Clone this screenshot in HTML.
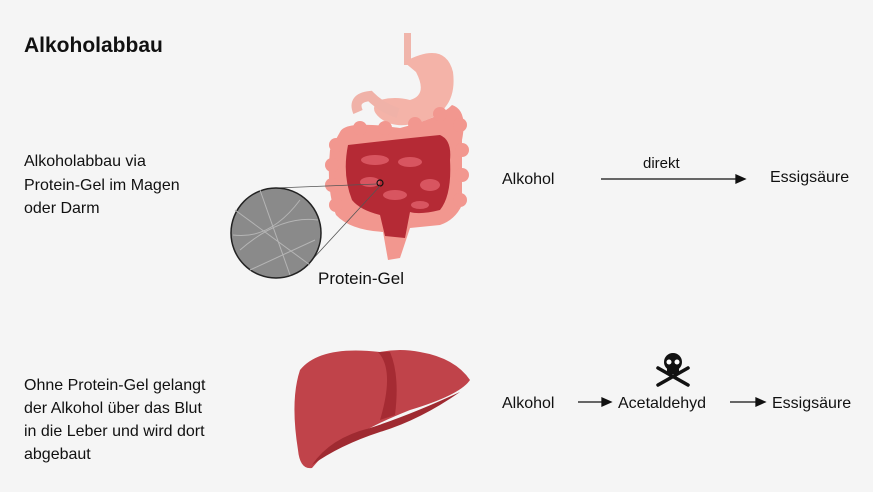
<!DOCTYPE html>
<html><head><style>
body{margin:0;background:#f5f5f5;}
svg{display:block;font-family:"Liberation Sans",sans-serif;}
</style></head><body>
<svg width="873" height="492" viewBox="0 0 873 492">
<rect width="873" height="492" fill="#f5f5f5"/>
<text x="24" y="52" font-size="21" font-weight="bold" fill="#111">Alkoholabbau</text>
<g font-size="16" fill="#111">
<text x="24" y="166">Alkoholabbau via</text>
<text x="24" y="190">Protein-Gel im Magen</text>
<text x="24" y="213">oder Darm</text>
<text x="24" y="390">Ohne Protein-Gel gelangt</text>
<text x="24" y="413">der Alkohol über das Blut</text>
<text x="24" y="436">in die Leber und wird dort</text>
<text x="24" y="459">abgebaut</text>
<text x="502" y="184">Alkohol</text>
<text x="643" y="168" font-size="15">direkt</text>
<text x="770" y="182">Essigsäure</text>
<text x="502" y="408">Alkohol</text>
<text x="618" y="408">Acetaldehyd</text>
<text x="772" y="408">Essigsäure</text>
<text x="318" y="284" font-size="17">Protein-Gel</text>
</g>
<g stroke="#111" stroke-width="1.3" fill="#111">
<line x1="601" y1="179" x2="738" y2="179"/><path d="M745 179 L736 175 L736 183Z"/>
<line x1="578" y1="402" x2="604" y2="402"/><path d="M611 402 L602 398 L602 406Z"/>
<line x1="730" y1="402" x2="758" y2="402"/><path d="M765 402 L756 398 L756 406Z"/>
</g>
<g fill="#111">
<ellipse cx="673" cy="362" rx="9" ry="9"/>
<rect x="667" y="366" width="12" height="8" rx="2"/>
<line x1="658" y1="368" x2="688" y2="385" stroke="#111" stroke-width="3.5" stroke-linecap="round"/>
<line x1="688" y1="368" x2="658" y2="385" stroke="#111" stroke-width="3.5" stroke-linecap="round"/>
<circle cx="669" cy="362" r="2.5" fill="#fff"/><circle cx="677" cy="362" r="2.5" fill="#fff"/>
</g>
<!-- gut -->
<rect x="404" y="33" width="7" height="32" fill="#f0b5ab"/>
<path d="M404 62 Q445 40 453 72 Q458 112 420 122 Q395 130 380 118 Q368 108 380 100 Q395 96 410 100 Q428 95 416 72Z" fill="#f4b3a8"/>
<path d="M358 112 Q352 98 370 96 Q382 108 398 113" fill="none" stroke="#f0b2a8" stroke-width="10"/>
<g fill="#f2978f">
<path d="M340 132 Q345 120 400 128 Q440 118 452 105 Q468 110 462 140 L462 205 Q455 220 440 225 L410 228 L400 258 L388 260 L383 232 Q350 230 336 215 Q326 190 330 150Z"/>
<circle cx="336" cy="145" r="7"/><circle cx="332" cy="165" r="7"/><circle cx="332" cy="185" r="7"/><circle cx="336" cy="205" r="7"/>
<circle cx="460" cy="125" r="7"/><circle cx="462" cy="150" r="7"/><circle cx="462" cy="175" r="7"/><circle cx="460" cy="200" r="7"/>
<circle cx="360" cy="128" r="7"/><circle cx="385" cy="128" r="7"/><circle cx="415" cy="124" r="7"/><circle cx="440" cy="114" r="7"/>
</g>
<path d="M348 145 Q390 140 440 135 Q452 140 450 160 Q452 195 440 210 Q420 215 410 212 L405 238 L385 236 L380 215 Q360 210 352 200 Q342 175 348 145Z" fill="#b52a35"/>
<g fill="#d85560">
<ellipse cx="375" cy="160" rx="14" ry="5"/><ellipse cx="410" cy="162" rx="12" ry="5"/>
<ellipse cx="430" cy="185" rx="10" ry="6"/><ellipse cx="395" cy="195" rx="12" ry="5"/>
<ellipse cx="370" cy="182" rx="10" ry="5"/><ellipse cx="420" cy="205" rx="9" ry="4"/>
</g>
<circle cx="380" cy="183" r="3" fill="none" stroke="#111" stroke-width="1.2"/>
<line x1="377" y1="184" x2="276" y2="188" stroke="#555" stroke-width="0.8"/>
<line x1="380" y1="186" x2="310" y2="262" stroke="#555" stroke-width="0.8"/>
<circle cx="276" cy="233" r="45" fill="#8a8a8a" stroke="#222" stroke-width="1.5"/>
<g stroke="#b5b5b5" stroke-width="1" fill="none">
<path d="M235 210 L310 265"/><path d="M240 250 Q280 215 318 220"/><path d="M260 190 L290 275"/><path d="M233 235 Q270 240 300 200"/><path d="M250 270 L315 240"/>
</g>
<!-- liver -->
<path d="M300 370 Q320 345 380 352 Q400 348 420 352 Q455 358 470 380 Q460 395 410 410 Q385 420 370 428 Q335 440 312 468 Q300 470 298 450 Q290 400 300 370Z" fill="#c0434a"/>
<path d="M378 352 Q395 370 380 420 L395 415 Q400 375 390 352Z" fill="#a52b33"/>
<path d="M312 465 Q330 438 370 428 Q410 415 460 392 Q420 420 380 432 Q340 445 312 465Z" fill="#9f2a31"/>
</svg>
</body></html>
